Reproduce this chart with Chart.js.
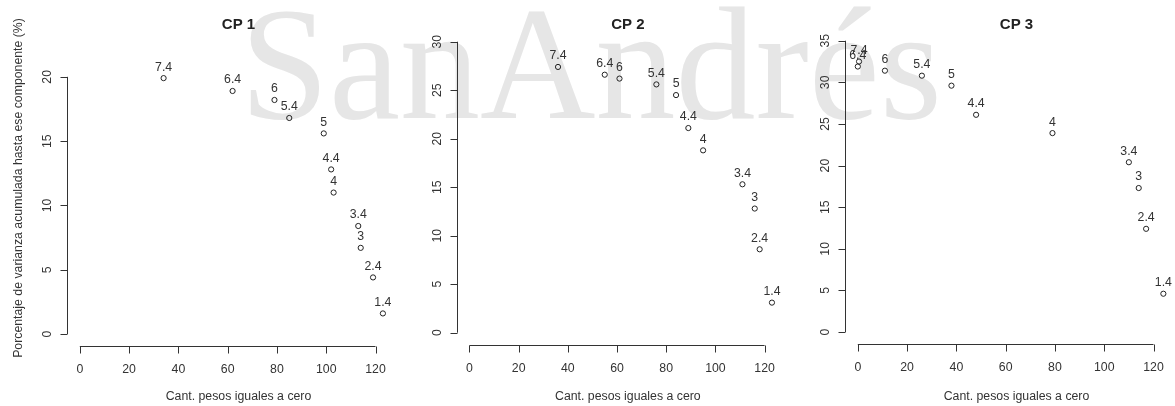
<!DOCTYPE html>
<html lang="es">
<head>
  <meta charset="UTF-8" />
  <title>Porcentaje de varianza acumulada por componente</title>
  <script src="https://cdn.jsdelivr.net/npm/chart.js"></script>
  <style>
    body {
      margin: 0;
      background: #ffffff;
      width: 1175px;
      height: 406px;
      overflow: hidden;
      position: relative;
      font-family: 'Liberation Sans', Arial, sans-serif;
    }

    .marca {
      position: absolute;
      left: 240px;
      top: -16px;
      font-family: 'Liberation Serif', 'Times New Roman', serif;
      font-size: 160px;
      line-height: 1;
      color: #e6e6e6;
      white-space: nowrap;
      z-index: 0;
      user-select: none;
    }

    canvas {
      position: absolute;
      top: 0;
      z-index: 1;
    }
  </style>
</head>
<body>

  <div class="marca" id="marca">SanAndrés</div>

  <canvas id="cp1" width="415" height="406" style="left:0px"></canvas>
  <canvas id="cp2" width="415" height="406" style="left:389px"></canvas>
  <canvas id="cp3" width="415" height="406" style="left:778px"></canvas>

  <script>
    // etiquetas de cada punto (umbral usado)
    const etiquetas = ['7.4', '6.4', '6', '5.4', '5', '4.4', '4', '3.4', '3', '2.4', '1.4'];

    // CP 1
    const cp1Ceros = [34, 62, 79, 85, 99, 102, 103, 113, 114, 119, 123];
    const cp1Varianza = [19.9, 18.9, 18.2, 16.8, 15.6, 12.8, 11.0, 8.4, 6.7, 4.4, 1.6];

    // CP 2
    const cp2Ceros = [36, 55, 61, 76, 84, 89, 95, 111, 116, 118, 123];
    const cp2Varianza = [27.4, 26.6, 26.2, 25.6, 24.5, 21.1, 18.8, 15.3, 12.8, 8.6, 3.1];

    // CP 3
    const cp3Ceros = [0.5, 0, 11, 26, 38, 48, 79, 110, 114, 117, 124];
    const cp3Varianza = [32.5, 31.9, 31.4, 30.8, 29.6, 26.1, 23.9, 20.4, 17.3, 12.4, 4.6];

    const xTicks = [0, 20, 40, 60, 80, 100, 120];
    const yTicks1 = [0, 5, 10, 15, 20];
    const yTicks2 = [0, 5, 10, 15, 20, 25, 30];
    const yTicks3 = [0, 5, 10, 15, 20, 25, 30, 35];

    const tituloX = 'Cant. pesos iguales a cero';
    const tituloY = 'Porcentaje de varianza acumulada hasta ese componente (%)';

    const FUENTE = "'Liberation Sans', Arial, sans-serif";
    const TAM = '12.3px ';
    const GRIS = '#333333';

    // ejes estilo R: separados del área, solo entre el primer y el último tick
    const ejesR = {
      id: 'ejesR',
      afterDatasetsDraw(chart, args, opts) {
        const ctx = chart.ctx;
        const xs = chart.scales.x;
        const ys = chart.scales.y;
        const area = chart.chartArea;
        ctx.save();
        ctx.strokeStyle = GRIS;
        ctx.fillStyle = GRIS;
        ctx.lineWidth = 1;

        // eje x
        const yEje = Math.round(area.bottom) + 0.5;
        const x0 = xs.getPixelForValue(opts.xTicks[0]);
        const x1 = xs.getPixelForValue(opts.xTicks[opts.xTicks.length - 1]);
        ctx.beginPath();
        ctx.moveTo(x0, yEje);
        ctx.lineTo(x1, yEje);
        opts.xTicks.forEach(t => {
          const px = Math.round(xs.getPixelForValue(t)) + 0.5;
          ctx.moveTo(px, yEje);
          ctx.lineTo(px, yEje + 7);
        });
        ctx.stroke();
        ctx.font = TAM + FUENTE;
        ctx.textAlign = 'center';
        ctx.textBaseline = 'middle';
        opts.xTicks.forEach(t => {
          ctx.fillText(String(t), xs.getPixelForValue(t), yEje + 23);
        });

        // eje y
        const xEje = Math.round(area.left) + 0.5;
        const y0 = ys.getPixelForValue(opts.yTicks[0]);
        const y1 = ys.getPixelForValue(opts.yTicks[opts.yTicks.length - 1]);
        ctx.beginPath();
        ctx.moveTo(xEje, y0);
        ctx.lineTo(xEje, y1);
        opts.yTicks.forEach(t => {
          const py = Math.round(ys.getPixelForValue(t)) + 0.5;
          ctx.moveTo(xEje, py);
          ctx.lineTo(xEje - 7, py);
        });
        ctx.stroke();
        opts.yTicks.forEach(t => {
          ctx.save();
          ctx.translate(xEje - 20, ys.getPixelForValue(t));
          ctx.rotate(-Math.PI / 2);
          ctx.fillText(String(t), 0, 0);
          ctx.restore();
        });

        // etiquetas de los puntos (arriba de cada punto)
        const meta = chart.getDatasetMeta(0);
        meta.data.forEach((p, i) => {
          ctx.fillText(opts.etiquetas[i], p.x, p.y - 11);
        });

        // título del panel
        const cx = (area.left + area.right) / 2;
        ctx.fillStyle = '#222222';
        ctx.font = 'bold 15px ' + FUENTE;
        ctx.fillText(opts.titulo, cx, 25);

        // título eje x
        ctx.fillStyle = GRIS;
        ctx.font = TAM + FUENTE;
        ctx.fillText(tituloX, cx, 397);

        // título eje y (solo primer panel)
        if (opts.conTituloY) {
          ctx.save();
          ctx.translate(18.5, 188);
          ctx.rotate(-Math.PI / 2);
          ctx.fillText(tituloY, 0, 0);
          ctx.restore();
        }
        ctx.restore();
      }
    };

    function dibujarPanel(id, titulo, ceros, varianza, yTicks, rangoY, padding, conTituloY) {
      const ctx = document.getElementById(id).getContext('2d');
      const puntos = ceros.map((c, i) => ({ x: c, y: varianza[i] }));
      return new Chart(ctx, {
        type: 'scatter',
        data: {
          datasets: [{
            data: puntos,
            pointRadius: 2.6,
            pointBorderWidth: 1,
            pointBorderColor: '#222222',
            pointBackgroundColor: 'rgba(0,0,0,0)',
            clip: false
          }]
        },
        options: {
          responsive: false,
          animation: false,
          events: [],
          layout: { padding: padding },
          plugins: {
            legend: { display: false },
            tooltip: { enabled: false },
            ejesR: { titulo, etiquetas, xTicks, yTicks, conTituloY }
          },
          scales: {
            x: { type: 'linear', min: -5.2, max: 134, display: false },
            y: { type: 'linear', min: rangoY[0], max: rangoY[1], display: false }
          }
        },
        plugins: [ejesR]
      });
    }

    dibujarPanel('cp1', 'CP 1', cp1Ceros, cp1Varianza, yTicks1, [-0.933, 24.42],
      { left: 67, right: 0, top: 20, bottom: 60 }, true);
    dibujarPanel('cp2', 'CP 2', cp2Ceros, cp2Varianza, yTicks2, [-1.3, 32.24],
      { left: 67.7, right: 0, top: 20, bottom: 60.7 }, false);
    dibujarPanel('cp3', 'CP 3', cp3Ceros, cp3Varianza, yTicks3, [-1.44, 37.49],
      { left: 67, right: 0, top: 20, bottom: 62 }, false);
  </script>
</body>
</html>
